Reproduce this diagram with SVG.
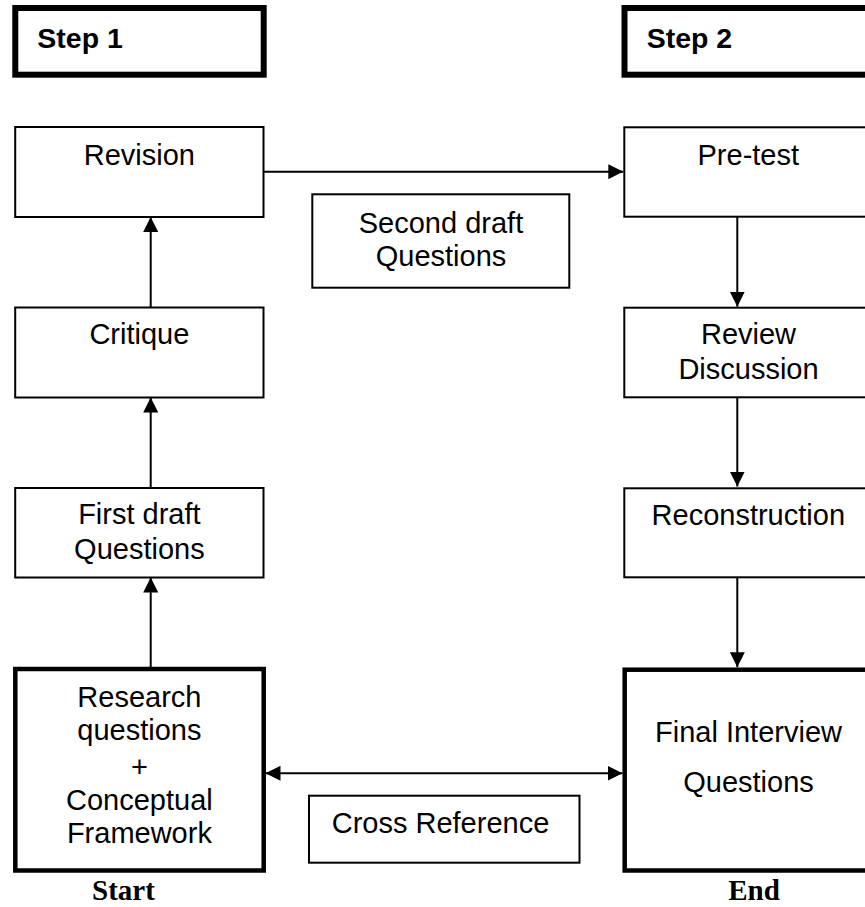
<svg xmlns="http://www.w3.org/2000/svg" width="865" height="907" viewBox="0 0 865 907">
  <style>
    .box { fill: #ffffff; stroke: #000000; stroke-width: 2; }
    .thick { fill: #ffffff; stroke: #000000; stroke-width: 4.5; }
    .step { fill: #ffffff; stroke: #000000; stroke-width: 6; }
    .lbl { font-family: "Liberation Sans", Arial, sans-serif; font-size: 29px; fill: #000000; text-anchor: middle; }
    .steplbl { font-family: "Liberation Sans", Arial, sans-serif; font-size: 28.5px; font-weight: bold; fill: #000000; }
    .endlbl { font-family: "Liberation Serif", "Times New Roman", serif; font-size: 29px; font-weight: bold; fill: #000000; text-anchor: middle; }
    .conn { fill: none; stroke: #000000; stroke-width: 2; }
  </style>
  <defs>
    <marker id="arrow" viewBox="0 0 15 15" refX="15" refY="7.5" markerWidth="15" markerHeight="15" markerUnits="userSpaceOnUse" orient="auto-start-reverse">
      <path d="M0,0 L15,7.5 L0,15 z" fill="#000000"/>
    </marker>
  </defs>

  <rect width="865" height="907" fill="#ffffff"/>

  <!-- step headers -->
  <g id="step1">
    <rect class="step" x="15.3" y="8" width="248.4" height="66.7"/>
    <text class="steplbl" x="37.3" y="48.3">Step 1</text>
  </g>
  <g id="step2">
    <rect class="step" x="624.5" y="8" width="260" height="66.7"/>
    <text class="steplbl" x="646.7" y="48.3">Step 2</text>
  </g>

  <!-- left column -->
  <g id="revision">
    <rect class="box" x="15.2" y="127" width="248.3" height="90"/>
    <text class="lbl" x="139.4" y="165">Revision</text>
  </g>
  <g id="critique">
    <rect class="box" x="15.2" y="307.5" width="248.3" height="90"/>
    <text class="lbl" x="139.4" y="344.3">Critique</text>
  </g>
  <g id="first-draft">
    <rect class="box" x="15.2" y="488" width="248.3" height="89.5"/>
    <text class="lbl" x="139.4" y="524">First draft</text>
    <text class="lbl" x="139.4" y="559.3">Questions</text>
  </g>
  <g id="research">
    <rect class="thick" x="15.3" y="669" width="248.4" height="201.5"/>
    <text class="lbl" x="139.4" y="706.7">Research</text>
    <text class="lbl" x="139.4" y="740">questions</text>
    <text class="lbl" x="139.4" y="777">+</text>
    <text class="lbl" x="139.4" y="810">Conceptual</text>
    <text class="lbl" x="139.4" y="843.3">Framework</text>
  </g>
  <g id="start">
    <text class="endlbl" x="123.5" y="899.5">Start</text>
  </g>

  <!-- middle notes -->
  <g id="second-draft">
    <rect class="box" x="312.3" y="194.3" width="257" height="93.4"/>
    <text class="lbl" x="441" y="233.3">Second draft</text>
    <text class="lbl" x="441" y="266">Questions</text>
  </g>
  <g id="cross-reference">
    <rect class="box" x="309" y="795.7" width="270.5" height="67"/>
    <text class="lbl" x="440.5" y="833.3">Cross Reference</text>
  </g>

  <!-- right column -->
  <g id="pre-test">
    <rect class="box" x="624.3" y="127.3" width="248" height="89.4"/>
    <text class="lbl" x="748.3" y="165">Pre-test</text>
  </g>
  <g id="review-discussion">
    <rect class="box" x="624.3" y="307.7" width="248" height="89.6"/>
    <text class="lbl" x="748.5" y="344.3">Review</text>
    <text class="lbl" x="748.5" y="379.3">Discussion</text>
  </g>
  <g id="reconstruction">
    <rect class="box" x="624.3" y="488.3" width="248" height="89"/>
    <text class="lbl" x="748.3" y="525">Reconstruction</text>
  </g>
  <g id="final-interview">
    <rect class="thick" x="624.7" y="669.7" width="260" height="200.8"/>
    <text class="lbl" x="748.5" y="741.7">Final Interview</text>
    <text class="lbl" x="748.5" y="791.7">Questions</text>
  </g>
  <g id="end">
    <text class="endlbl" x="754" y="899.5">End</text>
  </g>

  <!-- connectors -->
  <g id="connectors">
    <line class="conn" x1="150.7" y1="667" x2="150.7" y2="577.5" marker-end="url(#arrow)"/>
    <line class="conn" x1="150.7" y1="488" x2="150.7" y2="397.5" marker-end="url(#arrow)"/>
    <line class="conn" x1="150.7" y1="307.5" x2="150.7" y2="217" marker-end="url(#arrow)"/>
    <line class="conn" x1="263.5" y1="171.7" x2="623.3" y2="171.7" marker-end="url(#arrow)"/>
    <line class="conn" x1="737.3" y1="216.7" x2="737.3" y2="306.7" marker-end="url(#arrow)"/>
    <line class="conn" x1="737.3" y1="397.3" x2="737.3" y2="486.5" marker-end="url(#arrow)"/>
    <line class="conn" x1="737.3" y1="577.3" x2="737.3" y2="667.2" marker-end="url(#arrow)"/>
    <line class="conn" x1="265.5" y1="773.3" x2="622.5" y2="773.3" marker-start="url(#arrow)" marker-end="url(#arrow)"/>
  </g>
</svg>
